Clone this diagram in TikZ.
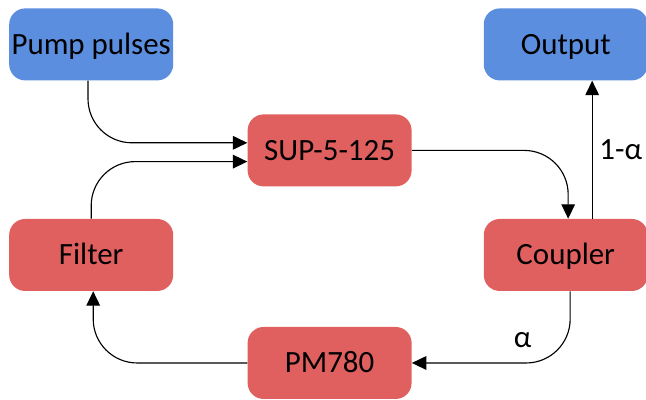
\documentclass[tikz,border=0pt]{standalone}
\usepackage{fontspec}
\setmainfont{Carlito}
\usetikzlibrary{arrows.meta, positioning}

\definecolor{pumpblue}{RGB}{91,142,222}
\definecolor{loopred}{RGB}{224,96,96}

\begin{document}
\begin{tikzpicture}[font=\fontsize{22}{26}\selectfont,
    box/.style={rounded corners=0.4cm, minimum width=4.1cm, minimum height=1.8cm, inner sep=0pt,
        text height=14pt, text depth=0pt},
    flow/.style={-{Triangle[length=0.36cm, width=0.34cm]}, line width=0.8pt, rounded corners=1.1cm}]
    \useasboundingbox (0,0) rectangle (16.15,-9.975);
    \node[box, fill=pumpblue] (pump) at (2.28,-1.11) {Pump pulses};
    \node[box, fill=pumpblue, right=7.75cm of pump] (output) {Output};
    \node[box, fill=loopred, below=3.45cm of pump] (filter) {Filter};
    \node[box, fill=loopred, below=3.45cm of output] (coupler) {Coupler};
    \node[box, fill=loopred] (sup) at (8.24,-3.76) {SUP-5-125};
    \node[box, fill=loopred, below=3.5cm of sup] (pm) {PM780};
    \draw[flow] ([xshift=-0.08cm]pump.south) |- ([yshift=0.19cm]sup.west);
    \draw[flow] (filter.north) |- ([yshift=-0.28cm]sup.west);
    \draw[flow] (sup.east) -| ([xshift=0.06cm]coupler.north);
    \draw[flow] ([xshift=0.66cm]coupler.north) -- ([xshift=0.66cm]output.south)
        node[midway, right=0.05cm] {1-α};
    \draw[flow] ([xshift=0.11cm]coupler.south) |- (pm.east)
        node[pos=0.65, above=0.25cm] {α};
    \draw[flow] (pm.west) -| ([xshift=0.05cm]filter.south);
\end{tikzpicture}
\end{document}
